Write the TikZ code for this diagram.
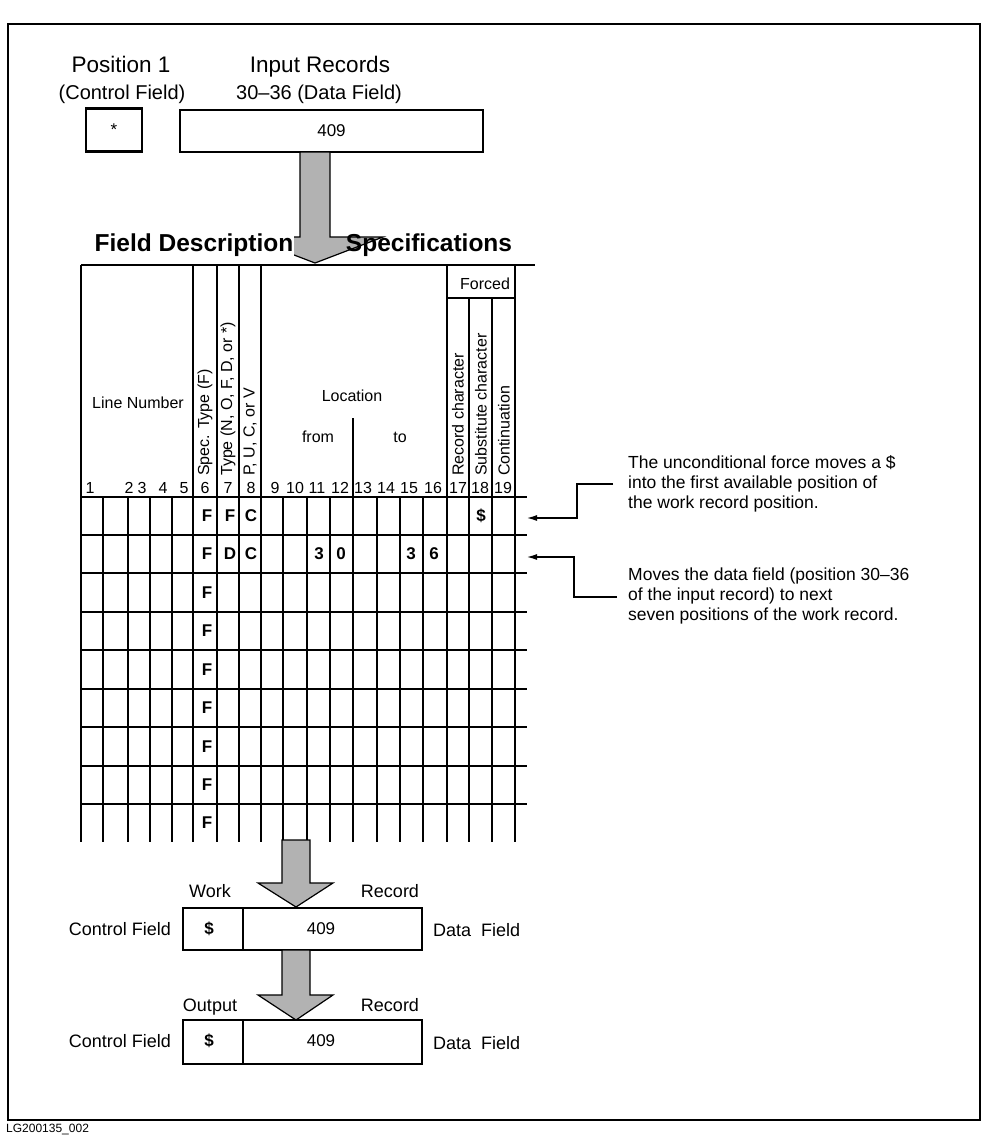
\documentclass[tikz,border=0pt]{standalone}
\usepackage{fontspec}
\setmainfont{Liberation Sans}
\usetikzlibrary{arrows.meta}
\begin{document}
\begin{tikzpicture}[x=1pt,y=-1pt,
  every node/.style={inner sep=0pt},
  hbig/.style={font=\fontsize{22.5}{26}\selectfont, anchor=base},
  hmid/.style={font=\fontsize{20}{24}\selectfont, anchor=base},
  htitle/.style={font=\fontsize{24.5}{28}\selectfont\bfseries},
  lbl/.style={font=\fontsize{18}{21}\selectfont},
  small/.style={font=\fontsize{16}{19}\selectfont},
  note/.style={font=\fontsize{17.5}{20}\selectfont, align=left, anchor=north west},
  cell/.style={font=\fontsize{17}{20}\selectfont},
  dcell/.style={font=\fontsize{17}{20}\selectfont\bfseries},
  vtext/.style={font=\fontsize{16}{19}\selectfont, rotate=90, anchor=west},
  recbox/.style={draw, line width=2.2pt},
  grid/.style={line width=1.6pt},
  bigarrow/.style={draw, line width=1.2pt, fill=black!30, line join=miter},
  ptr/.style={line width=1.2pt, -{Latex[length=10pt,width=6pt]}}
]
\useasboundingbox (0,0) rectangle (994,1146);
% outer frame
\draw[line width=1.8pt] (8,24) rectangle (980,1120);
\node[anchor=north west, font=\fontsize{12}{14}\selectfont] (code) at (6,1124) {LG200135\_002};

% ---------------- top ----------------
\node[hbig] (pos) at (121,72) {Position 1};
\node[hmid] (cf) at (122,99) {(Control Field)};
\node[hbig] (ir) at (320,72) {Input Records};
\node[hmid] (df) at (319,99) {30--36 (Data Field)};
\node[recbox, minimum width=56pt, minimum height=43pt] (star) at (114,130) {};
\node[cell] (starT) at (star.center) {*};
\node[recbox, minimum width=303pt, minimum height=42pt] (inrec) at (331.5,131) {};
\node[cell] (inrecT) at (inrec.center) {409};

% big arrow 1
\draw[bigarrow] (300,152) -- (330,152) -- (330,237) -- (383,237) -- (315,263) -- (247,237) -- (300,237) -- cycle;
\node[htitle, fill=white, inner sep=1pt] (fd) at (194,245) {Field Description};
\node[htitle] (sp) at (429,245) {Specifications};

% ---------------- table ----------------
\foreach \x in {81,193,217,239,261,447,515}
  \draw[grid] (\x,265) -- (\x,842);
\foreach \x in {469,492}
  \draw[grid] (\x,298) -- (\x,842);
\draw[grid] (353,418) -- (353,842);
\foreach \x in {103,128,150,172,283,307,330,377,400,423}
  \draw[grid] (\x,497) -- (\x,842);
\draw[grid] (81,265) -- (535,265);
\draw[grid] (447,298) -- (515,298);
\foreach \y in {497,535,573,612,650,689,727,766,804}
  \draw[grid] (81,\y) -- (527,\y);

% header texts
\node[small] (forced) at (485,284) {Forced};
\node[small] (ln) at (138,403) {Line Number};
\node[small] (loc) at (352,396) {Location};
\node[small] (from) at (318,437) {from};
\node[small] (to) at (400,437) {to};
\node[vtext] (v6) at (205,476) {Spec. Type (F)};
\node[vtext] (v7) at (228,476) {Type (N, O, F, D, or *)};
\node[vtext] (v8) at (250,476) {P, U, C, or V};
\node[vtext] (v17) at (458,476) {Record character};
\node[vtext] (v18) at (481,476) {Substitute character};
\node[vtext] (v19) at (504,476) {Continuation};
\foreach \n/\x in {1/90,2/129,3/142,4/163,5/184,6/205,7/228,8/251,9/275,10/295,11/317,12/340,13/363,14/386,15/409,16/433,17/458,18/480,19/503}
  \node[small] (num\n) at (\x,488) {\n};

% data cells
\foreach \r/\y in {1/516,2/554,3/593,4/631,5/670,6/708,7/747,8/785,9/823}
  \node[dcell] (f\r) at (207,\y) {F};
\node[dcell] (r1c7) at (230,516) {F};
\node[dcell] (r1c8) at (251,516) {C};
\node[dcell] (r1c18) at (481,516) {\$};
\node[dcell] (r2c7) at (230,554) {D};
\node[dcell] (r2c8) at (251,554) {C};
\node[dcell] (r2c11) at (319,554) {3};
\node[dcell] (r2c12) at (341,554) {0};
\node[dcell] (r2c15) at (411,554) {3};
\node[dcell] (r2c16) at (434,554) {6};

% annotations
\node[note] (n1) at (628,455) {The unconditional force moves a \$\\into the first available position of\\the work record position.};
\node[note] (n2) at (628,568) {Moves the data field (position 30--36\\of the input record) to next\\seven positions of the work record.};
\coordinate (t1) at (527,518);
\coordinate (t2) at (527,557);
\draw[ptr] (613,484) -- (577,484) -- (577,518) -- (t1);
\draw[ptr] (617,597) -- (574,597) -- (574,557) -- (t2);

% ---------------- bottom ----------------
\draw[bigarrow] (282,840) -- (310,840) -- (310,883) -- (333,883) -- (296,907) -- (258,883) -- (282,883) -- cycle;
\node[lbl, anchor=base] (work) at (210,897) {Work};
\node[lbl, anchor=base] (rec1) at (390,897) {Record};
\node[recbox, minimum width=239pt, minimum height=42pt] (wrec) at (302.5,929) {};
\draw[line width=2.2pt] (243,908) -- (243,950);
\node[dcell] (wd) at (209,929) {\$};
\node[cell] (wv) at (321,929) {409};
\node[lbl, anchor=east] (wcf) at (171,929) {Control Field};
\node[lbl, anchor=west] (wdf) at (433,930) {Data\ \ Field};

\draw[bigarrow] (282,950) -- (310,950) -- (310,995) -- (333,995) -- (296,1020) -- (258,995) -- (282,995) -- cycle;
\node[lbl, anchor=base] (out) at (210,1011) {Output};
\node[lbl, anchor=base] (rec2) at (390,1011) {Record};
\node[recbox, minimum width=239pt, minimum height=44pt] (orec) at (302.5,1042) {};
\draw[line width=2.2pt] (243,1020) -- (243,1064);
\node[dcell] (od) at (209,1041) {\$};
\node[cell] (ov) at (321,1041) {409};
\node[lbl, anchor=east] (ocf) at (171,1041) {Control Field};
\node[lbl, anchor=west] (odf) at (433,1043) {Data\ \ Field};
\end{tikzpicture}
\end{document}
